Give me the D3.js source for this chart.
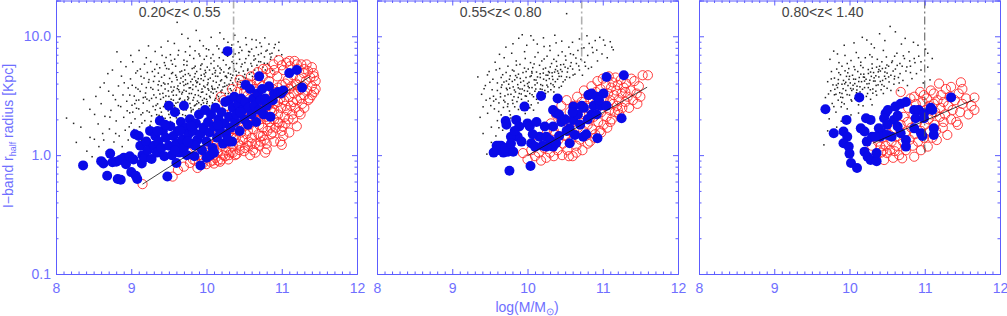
<!DOCTYPE html>
<html>
<head>
<meta charset="utf-8">
<script src="https://cdn.jsdelivr.net/npm/d3@7"></script>
<style>
  body { margin: 0; background: #fff; }
  svg { display: block; }
  text { font-family: "Liberation Sans", Arial, sans-serif; }
</style>
</head>
<body>
<svg id="chart" width="1007" height="316"></svg>
<script>
// panel titles, axis ticks
const panelLabels = ["0.20<z< 0.55", "0.55<z< 0.80", "0.80<z< 1.40"];
const xTicks = [8, 9, 10, 11, 12];
const yTicks = [0.1, 1, 10];
const yTickLabels = ["0.1", "1.0", "10.0"];

// vertical mass cut (x) and how far down it reaches (y)
const cutMass = [10.36, 10.72, 11.0];
const cutLow = [4.6, 6.0, 1.0];

// fitted relation, end points
const fit1 = [[9.15, 0.57], [11.38, 4.6]];
const fit2 = [[10.0, 0.99], [11.59, 3.73]];
const fit3 = [[10.31, 1.26], [11.66, 2.95]];

// small black dots (whole sample)
const field1 = [[8.14,2.05],[8.27,1.28],[8.33,1.72],[8.41,1.08],[8.45,2.43],[8.48,0.97],[8.51,1.36],[8.53,3.12],[8.56,1.83],[8.57,1.18],[8.6,2.71],[8.62,1.52],[8.64,4.05],[8.65,2.12],[8.67,1.07],[8.7,3.45],[8.71,1.66],[8.73,2.38],[8.75,5.2],[8.77,1.29],[8.79,2.93],[8.8,1.94],[8.81,7.4],[8.83,3.82],[8.84,1.45],[8.86,2.56],[8.87,4.62],[8.88,1.18],[8.89,3.21],[8.9,2.08],
  [8.92,1.62],[8.93,5.55],[8.94,2.84],[8.96,1.34],[8.96,3.67],[8.98,2.27],[8.99,4.38],[9.0,1.86],[9.01,2.63],[9.02,6.1],[9.03,1.41],[9.04,3.14],[9.05,2.02],[9.06,4.91],[9.07,2.48],[9.08,1.55],[9.09,3.59],[9.1,2.91],[9.11,1.73],[9.12,5.3],[9.13,2.19],[9.14,3.96],[9.14,1.32],[9.16,2.74],[9.17,4.45],[9.18,1.95],[9.19,3.33],[9.2,6.6],[9.21,2.36],[9.22,1.51],[9.23,4.1],[9.24,2.88],[9.25,1.78],[9.26,3.7],[9.27,2.14],[9.28,5.05],[9.29,2.57],[9.3,3.21],
  [9.31,1.62],[9.31,4.6],[9.32,2.41],[9.33,3.05],[9.34,1.88],[9.34,5.8],[9.35,2.7],[9.36,3.52],[9.37,2.16],[9.37,4.18],[9.38,1.57],[9.39,2.95],[9.4,3.84],[9.4,2.3],[9.41,6.9],[9.42,1.78],[9.42,3.31],[9.43,2.56],[9.44,4.7],[9.45,2.04],[9.45,3.6],[9.46,2.83],[9.47,5.35],[9.47,1.69],[9.48,2.43],[9.49,3.98],[9.5,3.12],[9.5,2.2],[9.51,4.42],[9.52,1.92],[9.52,2.69],[9.53,6.25],[9.54,3.4],[9.55,2.34],[9.55,4.95],[9.56,2.9],[9.57,1.83],[9.57,3.74],[9.58,2.53],[9.59,5.6],[9.6,3.2],[9.6,2.06],[9.61,4.3],[9.61,13.1],[9.62,2.78],[9.63,3.55],[9.63,7.6],[9.64,2.25],[9.65,4.02],[9.65,3.0],[9.66,1.96],[9.67,5.1],[9.67,2.62],[9.68,3.38],[9.69,4.6],[9.69,2.41],[9.7,3.86],[9.7,6.3],
  [9.71,2.9],[9.72,2.15],[9.72,4.3],[9.73,3.45],[9.74,5.7],[9.74,2.55],[9.75,3.1],[9.76,4.85],[9.76,2.05],[9.77,3.68],[9.78,2.72],[9.78,8.2],[9.79,4.15],[9.8,3.3],[9.8,2.38],[9.81,5.35],[9.82,2.9],[9.82,3.9],[9.83,6.5],[9.84,2.6],[9.84,4.55],[9.85,3.22],[9.86,2.2],[9.86,3.78],[9.87,5.05],[9.88,2.85],[9.88,4.12],[9.89,3.5],[9.9,7.1],[9.9,2.45],[9.91,9.2],[9.91,3.95],[9.92,3.1],[9.93,4.7],[9.93,2.66],[9.94,5.85],[9.95,3.4],[9.95,2.3],[9.96,4.25],[9.97,3.0],[9.97,6.4],[9.98,3.72],[9.99,2.55],[9.99,4.95],[10.0,3.25],[10.01,5.5],[10.01,2.82],[10.02,4.05],[10.03,7.7],[10.03,3.52],[10.04,2.6],[10.05,4.45],[10.05,3.05],[10.06,5.9],[10.07,3.8],[10.08,2.75],[10.08,4.8],[10.09,3.32],[10.1,6.2],
  [10.11,3.6],[10.11,2.9],[10.12,5.15],[10.13,4.1],[10.14,8.3],[10.14,3.2],[10.15,4.6],[10.16,2.85],[10.17,3.9],[10.17,6.6],[10.18,5.4],[10.19,3.45],[10.2,4.3],[10.21,2.95],[10.21,7.3],[10.22,3.75],[10.23,5.0],[10.23,9.5],[10.24,4.05],[10.25,3.3],[10.26,5.75],[10.27,4.5],[10.28,3.6],[10.28,6.8],[10.29,4.9],[10.3,3.95],[10.31,5.45],[10.32,4.25],[10.33,8.0],[10.33,3.5],[10.34,6.1],[10.35,4.7],[10.36,3.85],[10.37,5.3],[10.38,7.1],[10.39,4.4],[10.4,5.9],[10.41,3.9],[10.42,9.0],[10.43,4.95],[10.44,6.4],[10.45,4.1],[10.46,5.55],[10.47,7.6],[10.48,4.6],[10.49,5.1],
  [10.51,6.0],[10.52,4.45],[10.53,8.5],[10.55,5.3],[10.56,6.9],[10.57,4.8],[10.59,5.9],[10.6,7.8],[10.61,4.6],[10.63,6.3],[10.64,5.2],[10.66,9.3],[10.67,5.7],[10.69,7.0],[10.7,4.9],[10.72,6.1],[10.73,8.2],[10.75,5.5],[10.77,6.7],[10.79,7.5],[10.81,5.9],[10.83,8.6],[10.85,6.4],[10.87,7.2],[10.9,8.0],[10.93,6.8],[10.96,7.6],[11.0,7.0],
  [9.35,1.35],[9.55,1.55],[9.75,1.72],[9.95,1.85],[10.1,2.05],[9.62,1.4],[9.88,1.6],
  [9.33,2.62],[9.36,4.9],[9.38,3.27],[9.41,2.12],[9.43,4.05],[9.46,3.15],[9.48,2.78],[9.5,5.3],[9.53,2.95],[9.54,4.15],[9.56,3.5],[9.58,2.2],[9.59,4.7],[9.62,3.82],[9.64,2.95],[9.66,4.45],[9.68,2.83],[9.7,3.52],[9.71,5.2],[9.73,2.4],[9.75,4.0],[9.77,3.3],[9.79,2.5],[9.81,4.35],[9.83,3.05],[9.85,4.85],[9.87,2.7],[9.89,4.4],[9.92,5.3],[9.94,3.6],[9.96,2.75],[9.98,4.6],[10.0,2.95],[10.02,3.62],[10.04,5.2],[10.06,3.4],[10.09,4.2],[10.12,3.0],[10.15,3.7],[10.18,4.9],[10.2,3.35],[10.25,4.6],[10.29,3.3],[10.32,4.8],[10.36,5.9],[10.4,4.7],[9.27,3.0],[9.24,2.3],[9.2,3.7],[9.16,3.05],[9.13,4.6],[9.1,2.45],[9.06,3.7],[9.02,2.3],[8.98,3.2],[9.44,6.0],[9.52,7.0],[9.72,7.4],[9.85,5.6],[10.0,6.8],[10.1,5.4],
  [9.013,3.87],[9.047,2.71],[9.082,5.12],[9.118,3.44],[9.153,2.27],[9.176,5.83],[9.208,2.96],[9.236,4.32],[9.263,1.92],[9.287,3.58],[9.312,5.27],[9.338,2.19],[9.357,3.91],[9.384,2.48],[9.403,4.53],[9.427,3.06],[9.452,5.68],[9.468,2.61],[9.493,3.47],[9.518,2.07],[9.536,4.86],[9.559,3.19],[9.577,6.42],[9.594,2.74],[9.612,3.63],[9.633,2.37],[9.648,5.02],[9.671,3.27],[9.689,4.14],[9.706,2.53],
  [9.724,3.94],[9.741,6.15],[9.763,3.02],[9.781,4.68],[9.797,2.31],[9.816,3.57],[9.834,5.43],[9.852,2.64],[9.871,4.07],[9.893,3.18],[9.912,6.83],[9.928,4.39],[9.947,2.89],[9.963,3.81],[9.982,5.16],[10.004,2.72],[10.023,4.34],[10.041,3.13],[10.058,6.56],[10.077,3.66],[10.096,2.51],[10.113,4.93],[10.132,3.42],[10.151,5.62],[10.168,2.98],[10.187,4.21],[10.206,3.53],[10.224,6.28],[10.243,3.79],[10.261,4.62],
  [10.278,2.93],[10.297,5.34],[10.316,3.62],[10.334,4.47],[10.353,6.72],[10.371,3.35],[10.392,5.08],[10.412,4.16],[10.431,7.27],[10.452,3.74],[10.473,5.83],[10.496,4.52],[10.523,6.48],[10.547,5.16],[10.574,7.39],[10.602,5.61],[10.631,6.84],[10.662,8.07],[10.694,6.12],[10.727,7.18],[10.768,5.93],[10.806,7.64],[10.857,6.68],[10.914,8.53],
  [8.234,1.85],[8.367,2.94],[8.452,1.41],[8.513,2.2],[8.587,3.72],[8.634,1.34],[8.689,4.85],[8.716,2.09],[8.758,3.19],[8.793,1.52],[8.829,2.61],[8.861,6.1],[8.907,4.06],[8.946,2.36],[8.973,1.73],[8.994,6.9],[9.036,1.64],[9.067,2.89],[9.104,7.6],[9.141,1.86],[9.187,3.08],[9.229,8.3],[9.318,7.45],[9.397,8.1],[9.487,9.1],[9.573,8.7],[9.672,10.4],[9.754,9.6],[9.863,11.2],[9.958,8.3],[10.062,9.8],[10.178,10.7],[10.285,8.9],[10.376,10.2],[10.521,9.7],[10.604,9.4],[10.775,9.7],[10.843,7.1],[10.962,8.9],[11.02,6.3],
  [9.402,2.03],[9.447,3.96],[9.491,2.36],[9.528,3.74],[9.571,2.61],[9.602,4.52],[9.641,3.41],[9.683,2.19],[9.718,4.76],[9.752,2.93],[9.786,3.69],[9.823,2.42],[9.858,4.22],[9.897,2.76],[9.933,3.38],[9.969,4.81],[10.012,3.91],[10.047,2.44],[10.083,3.58],[10.121,4.62],[10.159,3.11],[10.196,5.23],[10.238,2.82],[10.272,3.86],[10.311,3.05],[10.348,4.05],[10.387,3.52],[10.428,4.36],[10.466,3.57],[10.508,4.78],
  [10.553,4.21],[10.597,4.96],[10.643,4.35],[10.688,5.42],[10.734,4.72],[10.782,5.21],[10.83,5.72],[10.88,5.15],[9.378,5.43],[9.463,6.63],[9.547,5.82],[9.623,6.95],[9.699,5.76],[9.778,6.92],[9.848,7.55],[9.924,5.69],[9.998,7.85],[10.086,7.02],[10.163,7.84],[10.253,7.52],[10.337,8.45],[10.446,8.1],[10.56,7.45],[10.65,6.45],[10.71,8.8],[9.203,1.66],[9.272,1.47],[9.163,1.38],[9.097,1.21],[9.214,4.96],[9.259,6.12],[9.296,4.17]];

const field2 = [[9.34,4.55],[9.37,2.08],[9.39,3.25],[9.41,2.55],[9.44,3.85],[9.46,1.02],[9.47,2.25],[9.49,5.05],[9.5,3.0],[9.52,1.72],[9.53,3.55],[9.54,4.35],[9.56,2.45],[9.57,6.05],[9.58,2.95],[9.6,1.95],[9.6,4.05],[9.62,2.75],[9.63,5.35],[9.64,3.3],[9.65,2.18],[9.66,3.9],[9.67,4.75],[9.68,2.52],[9.69,6.6],[9.7,3.15],
  [9.71,2.05],[9.72,4.2],[9.73,3.55],[9.74,5.6],[9.74,2.7],[9.75,3.95],[9.76,2.35],[9.77,4.65],[9.78,3.25],[9.79,7.2],[9.8,2.9],[9.81,3.75],[9.82,5.1],[9.83,2.55],[9.83,4.3],[9.84,3.4],[9.85,6.2],[9.86,2.82],[9.87,3.92],[9.88,4.8],[9.88,2.42],[9.89,3.3],[9.9,5.8],
  [9.91,4.1],[9.92,2.95],[9.93,10.3],[9.93,3.6],[9.94,4.95],[9.95,2.7],[9.96,3.85],[9.97,6.5],[9.97,3.15],[9.98,4.5],[9.99,8.4],[10.0,3.45],[10.01,2.85],[10.01,5.3],[10.02,4.1],[10.03,3.3],[10.04,6.0],[10.05,2.65],[10.05,4.65],[10.06,3.7],[10.07,5.45],[10.08,9.3],[10.08,3.1],[10.09,4.3],[10.1,6.7],
  [10.11,3.6],[10.12,5.0],[10.12,2.95],[10.13,4.05],[10.14,7.3],[10.15,3.4],[10.16,5.7],[10.17,4.5],[10.18,3.0],[10.19,6.2],[10.2,3.85],[10.21,4.9],[10.22,8.2],[10.23,3.5],[10.24,5.4],[10.25,4.25],[10.26,6.8],[10.27,3.75],[10.28,5.05],[10.29,4.4],[10.3,7.6],
  [10.31,3.55],[10.32,5.9],[10.33,4.6],[10.34,3.9],[10.35,6.4],[10.36,5.0],[10.37,4.15],[10.38,8.8],[10.39,5.6],[10.4,4.35],[10.41,6.9],[10.42,3.7],[10.44,5.25],[10.45,4.6],[10.46,7.4],[10.48,5.8],[10.5,4.3],
  [10.52,15.5],[10.51,6.3],[10.53,5.0],[10.55,8.1],[10.56,4.5],[10.58,6.0],[10.6,5.3],[10.61,7.0],[10.63,4.8],[10.65,5.9],[10.67,7.6],[10.69,5.2],[10.71,6.4],[10.73,4.7],[10.75,8.0],[10.77,5.6],[10.8,6.9],[10.82,8.7],[10.85,5.5],[10.87,7.3],[10.9,9.2],[10.93,6.2],[10.96,9.8],[10.99,7.1],[11.03,8.4],[11.06,6.6],[11.1,9.0],[11.14,7.7],
  [9.6,3.5],[9.65,4.5],[9.7,2.8],[9.72,3.65],[9.76,4.35],[9.8,5.2],[9.82,3.1],[9.86,4.5],[9.9,3.6],[9.94,2.55],[9.96,5.4],[10.0,4.0],[10.03,2.5],[10.06,4.9],[10.1,3.9],[10.14,2.75],[10.17,3.6],[10.21,5.3],[10.24,3.3],[10.27,4.7],[10.31,4.0],[10.35,3.4],[10.4,5.1],[10.45,3.8],[10.5,5.5],[9.55,2.85],[9.5,4.1],[9.45,2.9],[9.62,1.7],[9.78,2.05],
  [9.423,3.62],[9.468,4.73],[9.512,2.61],[9.548,3.13],[9.583,5.21],[9.617,2.33],[9.652,3.72],[9.684,2.89],[9.716,4.96],[9.741,3.24],[9.772,2.18],[9.798,4.17],[9.826,3.53],[9.853,5.72],[9.877,3.06],[9.904,4.42],[9.931,2.62],[9.958,3.49],[9.982,5.05],[10.009,3.79],[10.034,4.58],[10.061,3.22],[10.088,5.85],[10.113,4.28],[10.142,3.12],
  [10.168,4.84],[10.194,3.57],[10.221,6.44],[10.247,4.71],[10.273,3.41],[10.302,5.52],[10.327,4.93],[10.356,3.76],[10.384,6.15],[10.412,4.88],[10.441,5.76],[10.473,4.14],[10.504,6.82],[10.537,5.37],[10.571,7.13],[10.606,4.72],[10.643,6.56],[10.681,5.62],[10.72,7.92],[10.76,6.05],[10.81,5.35],[10.86,8.05],[10.92,7.65],[11.01,9.3],[11.12,8.1],
  [9.628,7.05],[9.713,8.1],[9.807,8.65],[9.884,9.62],[9.961,7.42],[10.045,10.1],[10.13,8.6],[10.212,9.7],[10.296,8.3],[10.363,10.2],[10.455,9.1],[10.598,8.9],[10.69,9.5],[10.79,10.1],[9.41,1.52],[9.52,1.28],[9.58,1.45],[9.67,1.62],[9.74,1.85],[9.86,2.08],[9.97,2.24],[10.08,2.39],
  [9.641,3.09],[9.687,4.12],[9.735,2.56],[9.764,3.66],[9.806,2.72],[9.842,4.67],[9.878,3.68],[9.917,3.27],[9.947,4.21],[9.985,3.13],[10.023,3.69],[10.057,5.05],[10.098,3.45],[10.133,4.55],[10.176,3.92],[10.214,4.36],[10.258,3.88],[10.291,4.95],[10.337,4.33],[10.372,5.25],[10.42,4.6],[10.46,5.05],[10.52,4.55],[10.57,5.6]];

const field3 = [[9.66,1.22],[9.68,3.05],[9.7,2.38],[9.71,4.15],[9.73,2.02],[9.75,3.48],[9.76,5.05],[9.77,2.72],[9.79,7.5],[9.8,3.22],[9.8,4.45],[9.82,2.3],[9.83,5.3],[9.84,3.7],[9.85,2.9],[9.86,6.0],[9.87,3.35],[9.88,4.75],[9.89,2.55],[9.9,3.95],[9.9,5.6],
  [9.91,3.05],[9.92,4.25],[9.93,2.7],[9.94,6.9],[9.95,3.5],[9.96,4.6],[9.97,2.45],[9.98,3.85],[9.99,5.35],[10.0,3.2],[10.01,4.05],[10.02,6.25],[10.03,2.85],[10.04,4.7],[10.05,3.6],[10.06,5.55],[10.07,3.0],[10.08,4.35],[10.09,7.3],[10.1,3.8],
  [10.11,5.05],[10.12,2.65],[10.13,4.5],[10.14,3.4],[10.15,6.05],[10.16,4.15],[10.17,3.15],[10.18,5.45],[10.19,4.8],[10.2,3.7],[10.21,6.6],[10.22,4.35],[10.23,9.3],[10.24,3.3],[10.25,5.25],[10.26,4.0],[10.27,7.0],[10.28,2.95],[10.29,4.6],[10.3,5.85],
  [10.31,3.6],[10.32,4.95],[10.33,8.0],[10.34,4.2],[10.35,3.45],[10.36,5.5],[10.37,6.4],[10.38,3.9],[10.39,4.55],[10.4,10.5],[10.41,5.1],[10.42,3.55],[10.43,6.1],[10.44,4.25],[10.45,7.6],[10.46,3.8],[10.47,5.0],[10.48,4.4],[10.49,6.7],[10.5,3.65],
  [10.52,5.6],[10.54,12.1],[10.55,4.7],[10.57,6.2],[10.59,3.95],[10.61,5.3],[10.63,7.2],[10.65,4.5],[10.67,5.9],[10.69,8.6],[10.71,4.25],[10.73,6.5],[10.75,5.1],[10.77,3.85],[10.79,7.4],[10.81,5.6],[10.83,4.4],[10.85,8.9],[10.87,6.0],[10.89,4.85],[10.92,6.8],[10.95,5.2],[10.98,4.05],[11.01,7.8],[11.04,5.5],[11.07,4.3],[11.1,6.5],
  [9.85,4.0],[9.9,3.3],[9.95,4.1],[10.0,4.6],[10.03,3.5],[10.07,4.0],[10.1,3.25],[10.15,4.8],[10.2,4.2],[10.25,3.7],[10.28,5.0],[10.32,4.2],[10.36,3.2],[10.4,5.6],[10.45,3.3],[10.5,4.9],[10.55,3.5],[10.6,4.6],[10.65,3.5],[10.7,5.6],[9.78,3.9],[9.82,3.25],[9.97,5.9],[10.12,6.6],[10.3,6.7],[10.6,6.8],[10.8,6.2],
  [9.721,3.27],[9.758,4.38],[9.792,2.56],[9.826,3.88],[9.858,4.94],[9.884,3.07],[9.915,3.62],[9.941,5.12],[9.968,3.23],[9.993,4.34],[10.021,2.92],[10.047,3.87],[10.072,5.24],[10.098,3.53],[10.123,4.16],[10.149,5.68],[10.173,3.58],[10.198,4.52],[10.224,3.12],[10.251,4.86],
  [10.277,3.55],[10.302,5.38],[10.327,4.47],[10.354,3.86],[10.382,5.02],[10.409,4.17],[10.437,5.35],[10.466,4.61],[10.497,5.73],[10.526,4.13],[10.561,6.02],[10.596,4.38],[10.634,5.69],[10.672,4.85],[10.716,6.85],[10.762,5.52],[10.81,4.95],[10.86,6.5],[10.95,6.1],[11.04,7.2],
  [9.74,6.4],[9.84,7.1],[9.93,8.4],[10.06,8.8],[10.17,9.8],[10.29,8.6],[10.47,9.2],[10.61,10.9],[10.74,9.6],[10.91,8.4],[9.71,1.6],[9.77,1.45],[9.83,1.72],[9.89,1.93],[10.02,2.18],[10.12,2.26],[10.18,2.6],[10.3,2.65],
  [9.805,3.58],[9.852,4.32],[9.897,2.78],[9.936,3.98],[9.977,4.93],[10.015,3.64],[10.055,4.36],[10.093,3.35],[10.139,3.76],[10.185,4.54],[10.232,3.98],[10.27,4.27],[10.31,3.32],[10.35,4.65],[10.39,5.25],[10.43,3.92],[10.48,5.4],[10.52,4.55],[10.58,5.1],[10.66,4.05]];

// red open circles
const red1 = [[9.15,0.57],[9.55,0.66],[9.62,0.75],[9.7,0.8],[9.78,0.86],[9.82,0.92],[9.88,0.78],[9.9,1.0],[9.75,1.05],[9.95,0.85],
  [9.96,0.92],[9.98,1.1],[10.0,0.84],[10.02,1.25],[10.04,0.98],[10.06,1.4],[10.08,0.9],[10.1,1.15],[10.03,1.6],[10.09,1.8],
  [10.12,0.95],[10.14,1.3],[10.15,1.05],[10.17,1.55],[10.18,0.88],[10.2,1.2],[10.21,1.7],[10.22,1.0],[10.24,1.4],[10.25,2.0],[10.26,1.1],[10.27,2.6],[10.28,1.6],[10.29,0.92],[10.3,1.3],[10.15,2.2],[10.23,2.9],[10.19,3.1],
  [10.31,1.8],[10.32,1.05],[10.33,1.5],[10.34,2.3],[10.35,1.2],[10.36,1.65],[10.37,2.8],[10.38,1.0],[10.39,1.4],[10.4,2.1],[10.41,3.4],[10.42,1.25],[10.43,1.9],[10.44,1.1],[10.45,2.5],[10.46,1.55],[10.47,3.9],[10.48,1.35],[10.49,2.2],[10.5,1.75],[10.34,3.6],[10.44,4.3],
  [10.51,1.15],[10.52,2.7],[10.53,1.5],[10.54,2.0],[10.55,3.2],[10.56,1.3],[10.57,1.8],[10.58,2.4],[10.59,4.6],[10.6,1.4],[10.61,2.9],[10.62,1.65],[10.63,2.2],[10.64,3.6],[10.65,1.25],[10.66,1.95],[10.67,2.6],[10.68,5.0],[10.69,1.5],[10.7,3.1],[10.55,4.0],[10.62,1.1],[10.58,3.5],[10.67,4.3],
  [10.71,2.0],[10.72,1.45],[10.73,2.4],[10.74,3.8],[10.75,1.7],[10.76,2.8],[10.77,1.35],[10.78,3.3],[10.79,2.1],[10.8,5.3],[10.81,1.6],[10.82,2.6],[10.83,4.2],[10.84,1.9],[10.85,3.0],[10.86,1.5],[10.87,2.3],[10.88,3.6],[10.89,5.8],[10.9,2.0],[10.75,4.6],[10.8,1.25],[10.85,2.8],[10.72,3.0],[10.78,2.5],
  [10.91,2.7],[10.92,1.7],[10.93,3.3],[10.94,4.6],[10.95,2.2],[10.96,6.3],[10.97,1.85],[10.98,3.0],[10.99,2.5],[11.0,3.9],[11.01,1.75],[11.02,5.2],[11.03,2.9],[11.04,2.1],[11.05,3.5],[11.06,6.0],[11.07,2.4],[11.08,4.3],[11.09,2.0],[11.1,3.1],[11.0,1.6],[10.95,3.7],[11.05,2.6],
  [11.11,5.6],[11.12,2.6],[11.13,3.8],[11.14,2.2],[11.15,4.7],[11.16,3.3],[11.17,6.2],[11.18,2.5],[11.19,4.0],[11.2,2.9],[11.21,5.3],[11.22,3.5],[11.23,2.3],[11.24,4.4],[11.25,3.0],[11.26,5.8],[11.27,2.7],[11.28,3.8],[11.29,4.9],[11.3,3.2],
  [11.32,4.2],[11.34,3.5],[11.35,5.1],[11.37,3.0],[11.38,4.5],[11.4,3.8],[11.42,4.9],[11.43,3.4],[11.45,4.2],[11.33,5.8],[11.4,5.5],
  [10.45,1.9],[10.5,2.4],[10.55,1.6],[10.6,2.1],[10.65,2.5],[10.7,1.8],[10.75,2.2],[10.8,2.9],[10.85,2.4],[10.9,3.4],[10.95,2.8],[11.0,3.3],[11.05,4.0],[11.1,3.6],[11.15,2.8],[11.2,3.9],[11.25,3.6],[10.4,1.6],[10.35,1.4],[10.3,1.55],[10.25,1.25],[10.2,1.45],[10.6,1.9],[10.7,2.4],[10.8,2.0],[10.9,2.4],
  [10.0,1.0],[10.05,0.88],[10.1,0.85],[10.15,0.9],[10.2,0.92],[10.25,0.98],[10.3,1.0],[10.35,1.05],[10.4,1.02],[10.45,1.2],[10.5,1.08],[10.55,1.2],[10.6,1.25],[10.65,1.05],[10.7,1.2],[10.75,1.45],[10.8,1.12],[10.85,1.7],[10.9,1.3],[10.95,1.9],[11.0,1.22],[11.05,1.85],[11.1,1.55],[11.15,2.0],[11.2,1.75],[11.25,2.2],[11.3,2.5],[11.35,2.9],[11.4,3.2],[11.45,3.6],
  [11.43,4.6],[11.3,5.3],[11.2,5.8],[11.1,6.2],[11.0,5.7],[10.9,5.2],[10.85,4.9],[10.75,5.3],[10.7,4.0],[10.6,3.9],[10.5,3.4],[10.4,2.9],[9.85,0.9],[9.93,0.95],[10.58,1.0],[10.72,1.3],[10.88,1.55],[11.02,1.45],[10.98,1.3],[10.78,1.05]];

const red2 = [[9.94,1.04],[10.0,0.92],[10.05,1.1],[10.1,0.98],[10.12,1.25],[10.15,1.05],[10.18,0.9],[10.2,1.4],[10.22,1.15],[10.25,0.95],[10.26,1.6],[10.28,1.3],[10.3,1.05],[10.31,1.85],[10.33,1.2],[10.35,0.98],[10.36,1.5],[10.38,2.2],[10.4,1.1],[10.41,1.35],[10.43,1.7],[10.45,2.6],[10.46,1.0],[10.47,1.25],[10.49,1.95],[10.5,1.45],
  [10.52,2.9],[10.53,1.1],[10.54,1.6],[10.56,2.3],[10.57,1.3],[10.58,1.85],[10.6,0.98],[10.61,2.6],[10.62,1.5],[10.64,2.1],[10.65,1.2],[10.66,3.1],[10.67,1.7],[10.68,2.4],[10.7,1.35],[10.71,1.95],[10.72,2.8],[10.73,1.1],[10.74,1.6],[10.75,3.5],[10.76,2.2],[10.77,1.45],[10.78,2.6],[10.8,1.8],
  [10.81,3.2],[10.82,2.0],[10.83,1.3],[10.84,2.4],[10.85,3.8],[10.86,1.65],[10.87,2.9],[10.88,2.1],[10.9,1.5],[10.91,3.4],[10.92,2.5],[10.93,4.2],[10.94,1.9],[10.95,2.8],[10.96,1.6],[10.97,3.6],[10.98,2.3],[11.0,4.4],[11.01,1.8],[11.02,3.0],[11.03,2.6],[11.04,3.9],[11.05,2.1],[11.06,1.7],[11.07,3.3],[11.08,4.6],[11.09,2.4],[11.1,2.9],
  [11.11,3.7],[11.12,2.0],[11.13,4.1],[11.14,2.7],[11.15,3.2],[11.16,2.3],[11.17,4.5],[11.18,3.5],[11.19,2.6],[11.2,3.9],[11.21,2.9],[11.22,2.2],[11.24,4.3],[11.25,3.3],[11.26,2.5],[11.28,3.7],[11.3,2.8],[11.31,4.0],[11.33,3.1],[11.35,2.5],[11.37,3.5],[11.4,2.9],[11.42,4.2],[11.45,3.3],[11.48,3.8],[11.5,3.1],[11.53,4.7],[11.6,4.7],[11.46,2.7],
  [11.1,1.9],[10.65,1.05],[10.8,1.25],[10.9,1.4],[10.55,0.98],[10.35,1.6],[10.45,2.0],[10.6,2.0],[10.7,2.2],[10.8,2.5],[10.9,2.7],[11.0,2.9],[11.2,2.4],[11.3,3.4],[11.38,4.4],[10.98,1.55]];

const red3 = [[10.3,1.2],[10.35,0.98],[10.38,1.3],[10.41,1.18],[10.42,1.05],[10.44,1.4],[10.46,0.91],[10.48,1.2],[10.5,1.04],[10.52,1.5],[10.54,1.1],[10.56,1.3],[10.58,0.95],[10.6,1.65],[10.62,1.2],[10.64,1.45],[10.66,1.0],[10.68,3.4],[10.68,1.8],[10.7,0.94],
  [10.71,1.3],[10.72,2.1],[10.74,1.55],[10.75,1.1],[10.77,1.9],[10.78,2.5],[10.8,1.35],[10.81,3.0],[10.82,1.7],[10.84,1.2],[10.85,2.2],[10.86,3.1],[10.86,0.97],[10.87,1.5],[10.88,2.7],[10.9,1.9],[10.91,1.3],[10.92,2.4],[10.94,3.4],[10.95,1.6],
  [10.96,2.1],[10.97,2.8],[10.99,3.2],[10.99,1.4],[11.0,1.8],[11.01,2.4],[11.03,3.0],[11.04,1.18],[11.05,2.0],[11.06,2.6],[11.07,1.6],[11.08,3.5],[11.09,2.2],[11.1,1.4],[11.12,3.3],[11.12,2.7],[11.13,1.8],[11.14,2.3],[11.16,1.34],[11.17,2.9],
  [11.19,4.0],[11.2,2.1],[11.21,2.5],[11.22,3.2],[11.24,1.7],[11.25,2.8],[11.27,2.2],[11.28,3.6],[11.3,1.48],[11.31,2.6],[11.33,3.1],[11.35,3.75],[11.35,2.0],[11.37,2.4],[11.4,2.9],[11.42,1.9],[11.44,1.8],[11.45,3.3],[11.47,2.3],[11.48,4.1],
  [11.5,2.7],[11.5,3.6],[11.55,3.0],[11.58,2.2],[11.62,2.6],[11.66,3.05],[11.66,2.4],[10.95,1.1],[11.15,1.6],[11.25,1.9],[10.6,1.08],[10.45,1.1]];

// blue filled circles
const blue1 = [[8.36,0.82],[8.6,0.89],[8.63,0.85],[8.68,0.67],[8.72,1.03],[8.75,0.87],[8.8,0.88],[8.82,0.63],[8.86,0.62],[8.85,0.91],[8.9,0.95],[8.93,0.84],[8.98,0.98],[9.0,0.72],[9.03,0.92],[9.06,0.67],[9.08,0.63],
  [9.05,1.5],[9.1,1.45],[9.12,1.2],[9.14,0.85],[9.15,1.0],[9.18,0.95],[9.2,1.3],[9.22,1.1],[9.25,1.6],[9.27,0.93],[9.3,1.2],[9.32,1.45],[9.34,1.05],[9.36,1.3],[9.38,1.95],[9.4,1.15],[9.42,1.6],[9.44,0.98],[9.46,1.4],[9.48,0.66],
  [9.5,2.6],[9.5,1.2],[9.52,1.75],[9.54,1.0],[9.56,1.45],[9.58,2.3],[9.6,1.25],[9.6,0.86],[9.62,1.6],[9.64,1.05],[9.66,1.9],[9.68,1.35],[9.7,2.6],[9.7,1.15],[9.72,1.7],[9.74,1.0],[9.76,1.5],[9.78,2.0],[9.8,1.25],
  [9.82,1.6],[9.84,0.98],[9.86,1.85],[9.88,1.35],[9.9,2.2],[9.92,0.82],[9.92,1.5],[9.94,1.1],[9.96,1.7],[9.98,2.4],[10.0,1.3],[10.0,0.95],[10.02,1.9],[10.04,1.55],[10.06,2.2],[10.08,1.15],[10.1,1.75],[10.12,2.5],
  [10.14,1.4],[10.16,2.0],[10.18,1.6],[10.2,2.3],[10.22,1.25],[10.24,1.85],[10.25,2.8],[10.26,1.5],[10.28,7.5],[10.3,2.1],[10.3,2.9],[10.32,1.7],[10.34,1.3],[10.35,2.5],[10.37,3.1],[10.38,1.9],[10.4,2.2],[10.42,2.7],
  [10.44,1.6],[10.46,3.0],[10.48,2.4],[10.5,2.0],[10.52,3.9],[10.52,2.8],[10.55,1.8],[10.56,2.5],[10.58,3.6],[10.6,2.2],[10.62,3.0],[10.64,2.6],[10.66,1.9],[10.68,3.3],[10.7,4.6],[10.7,2.4],[10.72,2.9],[10.74,3.6],
  [10.76,2.2],[10.78,3.0],[10.8,2.6],[10.83,3.8],[10.85,2.1],[10.88,2.9],[10.9,3.3],[10.95,3.4],[10.99,3.3],[11.02,3.5],[11.1,4.9],[11.2,5.2],[11.27,3.7],
  [10.3,1.3],[10.28,1.35],[10.05,1.0],[10.1,1.05],[9.85,1.2],[9.75,1.3],[9.65,1.6],[9.45,1.8],[9.35,1.6],[9.58,1.1],[9.8,1.75],[10.15,1.8],[10.45,2.3]];

const blue2 = [[9.55,1.05],[9.59,1.2],[9.62,1.2],[9.68,1.05],[9.74,1.07],[9.81,1.07],[9.71,1.94],[9.72,1.8],[9.76,0.74],[9.85,1.98],[9.89,1.74],[9.87,1.43],[9.78,1.43],[9.96,2.56],[10.0,1.85],[10.03,1.74],[10.05,1.26],[10.1,1.18],[10.04,0.81],
  [10.18,3.14],[10.16,1.43],[10.23,1.74],[10.25,1.43],[10.34,2.4],[10.38,2.25],[10.4,3.0],[10.42,2.2],[10.34,1.74],[10.3,1.34],[10.34,1.18],[10.61,2.56],[10.72,2.6],[10.61,1.98],[10.56,1.68],[10.63,1.48],[10.74,1.43],
  [10.81,3.2],[10.85,3.3],[10.92,3.1],[10.88,2.6],[10.97,2.6],[11.05,2.6],[10.85,2.2],[10.92,2.2],[10.78,1.5],[10.93,1.39],[11.05,4.55],[11.28,4.7],[11.01,3.3],[11.25,2.04],[10.67,2.2],[10.56,1.26],[10.25,1.18],[10.38,1.26],
  [9.6,1.1],[9.65,1.2],[9.7,1.15],[9.78,1.25],[9.83,1.6],[9.92,1.3],[10.07,1.5],[10.12,1.9],[10.2,1.2],[10.45,1.9],[10.5,2.0],[10.52,1.6],[10.42,1.45],[10.7,1.8],[10.8,2.0],[10.75,2.5],[10.95,2.9],[10.6,2.3]];

const blue3 = [[9.68,2.43],[9.96,1.98],[10.13,3.06],[9.79,1.53],[9.92,1.58],[9.97,1.43],[9.92,1.26],[9.99,1.18],[10.0,1.03],[10.02,0.86],[10.1,0.78],[10.15,1.68],[10.2,1.58],[10.22,2.04],[10.28,1.98],
  [10.23,1.3],[10.2,1.07],[10.24,0.97],[10.28,0.91],[10.36,0.89],[10.36,1.04],[10.3,1.43],[10.39,1.68],[10.44,1.53],[10.41,1.43],[10.5,1.48],[10.48,2.25],[10.51,2.4],[10.61,2.56],[10.68,2.7],[10.75,2.8],
  [10.46,2.04],[10.59,1.98],[10.5,1.8],[10.64,1.74],[10.68,1.53],[10.75,1.34],[10.75,1.18],[10.86,2.4],[10.92,2.4],[10.99,2.25],[10.88,2.04],[10.99,2.04],[10.86,1.68],[10.95,1.53],[10.97,1.45],
  [11.08,2.5],[11.1,2.4],[11.12,1.68],[11.12,1.48],[11.35,3.06],[10.34,1.43],[10.56,1.43],[10.64,2.15]];

const fields = [field1, field2, field3];
const reds = [red1, red2, red3];
const blues = [blue1, blue2, blue3];
const fits = [fit1, fit2, fit3];

const svg = d3.select("#chart");
const axisColor = "#5c5cff";
const labelColor = "#6f6fff";
const panelLeft = [56, 377, 699];
const panelWidth = 301;
const plotTop = 0.5, plotBottom = 274;

const xMinor = d3.range(81, 120).map(d => d / 10).filter(d => d % 1 !== 0);
const yMinor = [];
[0.1, 1, 10].forEach(b => { for (let k = 2; k <= 9; k++) if (b * k <= 20) yMinor.push(b * k); });

const y = d3.scaleLog().domain([0.1, 20]).range([plotBottom, plotTop]);

panelLeft.forEach((left, i) => {
  const x = d3.scaleLinear().domain([8, 12]).range([0, panelWidth]);
  const g = svg.append("g").attr("transform", "translate(" + left + ",0)");

  // Attach dots
  g.append("g").selectAll("rect").data(fields[i]).join("rect")
    .attr("x", d => x(d[0]) - 0.75).attr("y", d => y(d[1]) - 0.75)
    .attr("width", 1.5).attr("height", 1.5).attr("fill", "#222");

  g.append("g").selectAll("circle").data(reds[i]).join("circle")
    .attr("cx", d => x(d[0])).attr("cy", d => y(d[1])).attr("r", 4.6)
    .attr("fill", "none").attr("stroke", "#ff2a2a").attr("stroke-width", 0.9);

  g.append("g").selectAll("circle").data(blues[i]).join("circle")
    .attr("cx", d => x(d[0])).attr("cy", d => y(d[1])).attr("r", 5)
    .attr("fill", "#0a0ae8");

  // fit line
  g.append("path").datum(fits[i])
    .attr("d", d3.line().x(d => x(d[0])).y(d => y(d[1])))
    .attr("stroke", "#111").attr("stroke-width", 0.8).attr("fill", "none");

  // mass cut
  g.append("line")
    .attr("x1", x(cutMass[i])).attr("x2", x(cutMass[i]))
    .attr("y1", y(20)).attr("y2", y(cutLow[i]))
    .attr("stroke", i === 2 ? "#555" : "#b0b0b0").attr("stroke-width", i === 2 ? 1 : 1.6)
    .attr("stroke-dasharray", "8,3,2,3");

  // Attach axes
  const axes = [
    [d3.axisBottom(x), "translate(0," + plotBottom + ")", xTicks, xMinor],
    [d3.axisTop(x), "translate(0," + plotTop + ")", xTicks, xMinor],
    [d3.axisLeft(y), "translate(0,0)", yTicks, yMinor],
    [d3.axisRight(y), "translate(" + panelWidth + ",0)", yTicks, yMinor]
  ];
  axes.forEach(([ax, tr, major, minor], k) => {
    const showLabels = k === 0 || (k === 2 && i === 0);
    const a = g.append("g").attr("transform", tr)
      .call(ax.tickValues(major).tickSize(-5).tickPadding(k === 0 ? 9 : 5)
        .tickFormat(showLabels ? (k === 0 ? d3.format("d") : (d, j) => yTickLabels[j]) : ""));
    g.append("g").attr("transform", tr)
      .call(ax.tickValues(minor).tickSize(-2.5).tickFormat(""))
      .call(s => s.select(".domain").remove());
    a.selectAll("text").attr("fill", labelColor).attr("font-size", 14);
  });
  g.selectAll(".domain, .tick line").attr("stroke", axisColor);

  g.append("text").attr("x", x(9.1)).attr("y", 17)
    .attr("fill", "#444").attr("font-size", 14).attr("xml:space", "preserve")
    .text(panelLabels[i]);
});

// axis titles
svg.append("text").attr("x", 527).attr("y", 312).attr("text-anchor", "middle")
  .attr("fill", labelColor).attr("font-size", 14)
  .call(t => {
    t.append("tspan").text("log(M/M");
    t.append("tspan").attr("font-size", 10).attr("dy", 3).text("\u2299");
    t.append("tspan").attr("dy", -3).text(")");
  });

svg.append("text").attr("transform", "translate(13,136) rotate(-90)").attr("text-anchor", "middle")
  .attr("fill", labelColor).attr("font-size", 14)
  .call(t => {
    t.append("tspan").text("I\u2212band r");
    t.append("tspan").attr("font-size", 9).attr("dy", 3).text("half");
    t.append("tspan").attr("dy", -3).text(" radius [Kpc]");
  });
</script>
</body>
</html>
